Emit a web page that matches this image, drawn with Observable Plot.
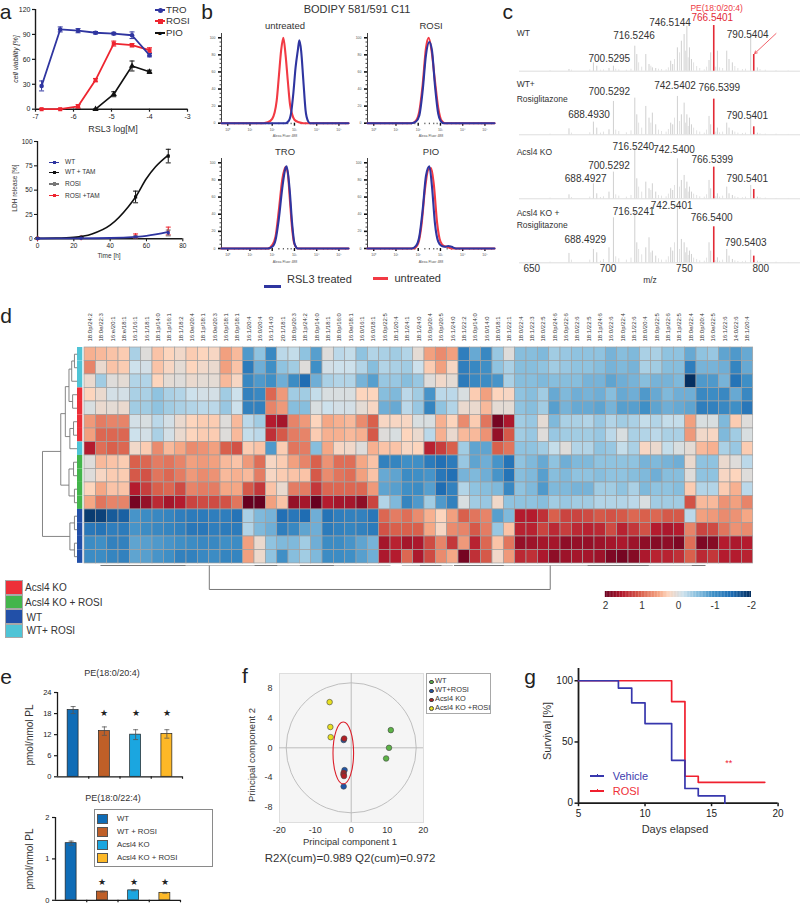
<!DOCTYPE html>
<html><head><meta charset="utf-8">
<script src="https://cdn.jsdelivr.net/npm/d3@7"></script>
<script src="https://cdn.jsdelivr.net/npm/@observablehq/plot@0.6"></script>
<style>
html,body{margin:0;padding:0;background:#fff}
#page{position:relative;width:800px;height:904px;overflow:hidden;font-family:"Liberation Sans",Arial,sans-serif;color:#333}
.t{position:absolute;white-space:nowrap;line-height:1}
.b{position:absolute}
</style></head><body><div id="page"></div>
<script>
// ---------- palette
const BLUE="#2f35a0", RED="#ee2530", INK="#1a1a1a", GREY="#cbcbcb";
const FONT='"Liberation Sans",Arial,sans-serif';

// ---------- panel a, viability
const rsl3Log=[-6.84,-6.35,-5.88,-5.42,-4.94,-4.46,-4.0];
const troViability=[28,96,94.5,92,91,89,65], troErr=[6,3,2.5,1.5,1.5,4,2];
const rosiViability=[0,0,3.5,35,79,77,71], rosiErr=[0,.5,2,2,3,2,3];
const pioViability=[0,0,0,0,18,52,45], pioErr=[0,0,0,0,3,6,2];
// ---------- panel a, LDH
const ldhCurveTime=[0,10,20,30,40,50,54,60,65,72];
const ldhCurveTam=[.5,.7,1.5,5,14,33,43,62,74,86];
const ldhCurveWtTime=[0,20,40,54,60,72];
const ldhCurveWt=[.3,.4,.8,2,3,7];
const ldhPtTime=[0,24,54,72];
const ldhTam=[.5,1.5,43,85], ldhTamErr=[.5,.5,6,7];
const ldhWt=[.3,.5,2,6], ldhWtErr=[.2,.3,1,3];
const ldhRosiTam=[.4,1,3,8], ldhRosiTamErr=[.2,.5,2,4];
// ---------- panel b, flow histograms
const untreatedRedX=[-.28,1.6,1.8,2.0,2.2,2.3,2.4,2.5,2.6,2.7,2.8,2.9,3.0,3.2,3.4,5.43];
const untreatedRedY=[0,0,1,5,26,55,85,100,80,50,22,10,4,1,0,0];
const untreatedBlueX=[-.28,2.6,2.75,2.85,2.95,3.05,3.15,3.22,3.3,3.4,3.5,3.6,3.7,5.43];
const untreatedBlueY=[0,0,3,12,35,65,85,97,85,50,15,3,0,0];
const rosiRedX=[-.28,1.7,1.9,2.05,2.2,2.35,2.47,2.6,2.75,2.9,3.05,3.2,5.43];
const rosiRedY=[0,0,3,14,45,88,100,85,50,18,3,0,0];
const rosiBlueX=[-.28,1.7,1.9,2.05,2.2,2.35,2.5,2.62,2.75,2.9,3.0,3.15,5.43];
const rosiBlueY=[0,0,2,9,38,80,95,85,45,11,3,0,0];
const troRedX=[-.28,1.8,2.0,2.15,2.3,2.45,2.6,2.7,2.8,2.9,3.0,3.15,5.43];
const troRedY=[0,0,4,14,45,80,95,88,55,22,5,0,0];
const troBlueX=[-.28,1.8,2.0,2.15,2.3,2.45,2.6,2.65,2.78,2.9,3.0,3.15,5.43];
const troBlueY=[0,0,2,10,35,70,94,96,70,28,6,0,0];
const pioRedX=[-.28,1.8,2.0,2.15,2.3,2.45,2.58,2.7,2.85,3.0,3.15,3.3,3.5,5.43];
const pioRedY=[0,0,6,28,68,92,94,75,30,8,3,2,0,0];
const pioBlueX=[-.28,1.7,1.9,2.05,2.2,2.35,2.5,2.62,2.75,2.9,3.05,3.2,3.35,3.5,3.7,5.43];
const pioBlueY=[0,0,3,14,45,85,96,72,30,8,3,2,3,2,0,0];
const flowMajorY=[0,20,40,60,80,100], flowMinorY=[5,10,15,25,30,35,45,50,55,65,70,75,85,90,95];
const flowMajorX=[0,1,2,3,4,5], flowMinorX=[.3,.5,.7,.85,1.3,1.5,1.7,1.85,2.3,2.5,2.7,2.85,3.3,3.5,3.7,3.85,4.3,4.5,4.7,4.85,5.3];
const flowExp=["⁰","¹","²","³","⁴","⁵"];
// ---------- panel c, spectra
const mzPeaks=[674.4,690.4,692.6,700.6,703.5,717.5,718.8,724.7,726.8,729,731.2,741,742.3,745.4,748,749.8,751.6,753.3,754.6,766.1,767.2,771.6,777.7,779.2,781.4,793.4,797.8];
const wtPeaks=[5,25,15,8,15,75,50,50,20,10,8,30,20,70,90,110,135,70,35,32,55,60,60,35,25,115,10];
const wtRosiPeaks=[18,38,20,15,100,110,60,85,50,65,30,35,30,115,60,95,60,50,30,55,30,20,35,20,12,50,5];
const koPeaks=[12,45,15,20,80,150,60,50,30,45,20,30,25,120,55,70,50,35,20,55,30,15,35,15,10,40,5];
const koRosiPeaks=[28,40,30,45,135,155,60,45,75,35,20,45,35,175,70,60,45,35,25,60,35,15,40,20,10,38,5];
const mzMinor=[662,676,688,695,697,705,707,712,715,720,722,728,733,735,738,739.5,743.5,746.8,750.7,752.5,756,758,760,763,764.5,769,770.5,773,775,783,785,788,790,799.5,803,810,818];
const wtMinor=[2,3,4,3,4,6,4,3,6,25,12,15,6,5,4,10,35,55,60,40,25,14,8,4,12,10,12,10,8,14,8,5,6,5,3,2,1];
const wtRosiMinor=[2,5,6,5,8,14,10,6,12,35,20,35,14,10,8,16,50,40,35,25,20,12,8,5,14,8,8,6,8,8,5,4,5,3,2,2,1];
const koMinor=[2,4,5,4,6,12,8,5,10,35,20,25,10,8,6,14,40,35,30,20,14,10,6,5,12,6,6,5,8,6,4,3,5,3,2,1,1];
const koRosiMinor=[2,8,8,5,10,18,12,8,14,40,24,30,12,8,8,18,60,40,30,22,14,10,6,5,14,8,6,5,8,6,4,3,5,3,2,2,1];
const mzRed=[769.2,795.4];
const wtRed=[137,50], wtRosiRed=[107,24], koRed=[95,28], koRosiRed=[108,20];
const mzTicks=[650,700,750,800];
// ---------- panel d, heatmap
const lipidLabels=["18:0p/24:2","18:0e/22:3","16:e/20:1","18:e/18:1","16:1/16:1","16:1/18:1","18:1p/14:0","18:1p/16:1","18:1/18:2","16:0e/20:4","18:1p/18:1","16:0e/20:3","16:0p/18:1","18:0p/18:1","16:1/20:4","16:0/20:4","16:1/14:0","20:1/18:1","18:0p/20:3","18:1p/24:2","18:0p/14:0","18:1/18:1","18:0p/16:0","16:0e/18:1","16:0/16:1","16:0/18:1","16:0p/22:5","18:1/20:4","18:1/24:1","18:1/24:0","16:0p/20:4","16:0p/20:5","16:1/24:0","18:1/22:2","16:0p/14:0","16:0/14:0","18:0/18:1","18:1/22:1","18:0/22:4","18:1/22:3","18:0/22:5","18:0p/24:6","16:0p/22:6","18:0/22:6","18:1/22:5","18:1p/24:6","16:0/22:6","18:0p/22:4","18:1/22:6","18:0/20:4","18:0p/22:5","18:1p/22:6","18:1p/22:5","18:0e/22:4","18:0p/20:4","16:0e/22:5","16:1/22:6","14:0/22:6","18:1/20:4"];
const heatRow01=[.45,.4,.35,.3,-.35,0,.35,.25,.15,.3,.25,.2,.55,.4,-.9,-.5,-1.1,-.25,-.2,-.5,-.85,0,-.25,-.2,-.5,-.3,-.35,-.4,-.3,.05,.55,.7,.55,-1.25,-.75,-1.1,-.45,0,-.55,-.55,-.6,-.4,-.45,-.5,-.5,-.5,-.65,-.55,-.6,-.35,-.35,-.5,-.5,-.75,-.5,-.45,-.8,-.9,-.75];
const heatRow02=[.75,.1,.35,.3,-.15,-.1,.35,.2,.05,.25,.15,.1,.55,.35,-1.3,-.7,-1.0,-.5,-.4,0,-1.0,-.1,-.15,-.15,-.3,-.55,-.3,-.35,-.4,-.15,.3,.55,.2,-1.25,-1.1,-1.0,-.5,-.35,-.55,-.55,-.5,-.4,-.45,-.5,-.5,-.55,-.65,-.6,-.65,-.35,-.4,-.55,-.55,-1.25,-.65,-.65,-.7,-1.15,-.75];
const heatRow03=[.1,-.4,0,.05,-.3,-.3,.25,.05,0,.1,.05,.05,.4,.2,-1.1,-.9,-1.0,-.7,-1.05,-1.5,-.7,-.35,-.3,-.3,-.65,-.85,-.45,-.45,-.55,-.45,0,.15,.05,-1.3,-1.1,-1.05,-.95,-.35,-.55,-.55,-.6,-.55,-.55,-.55,-.65,-.65,-.8,-.7,-.65,-.55,-.65,-.65,-.6,-2,-.9,-.9,-.65,-1.4,-1.0];
const heatRow04=[.25,.1,-.1,-.1,-.35,-.35,-.5,-.35,-.3,-.15,-.1,-.1,-.4,-.15,-1.2,-1.1,.95,.6,-.4,-.4,-.2,-.05,-.05,-.05,.25,.25,-.55,-.6,-.25,-.4,-.95,-.25,-.25,-.05,.3,.55,.25,.2,-.5,-.55,-.4,-.75,-.6,-.7,-.65,-.7,-.55,-.75,-.7,-.9,-.75,-.6,-.7,-.7,-1.1,-1.05,-1.1,-.75,-1.1];
const heatRow05=[-.05,.1,.05,.1,-.4,-.4,-.5,-.4,-.35,-.3,-.25,-.25,-.45,-.15,-1.2,-1.2,.75,.6,-.55,-.55,-.05,-.15,-.1,-.1,.05,.2,-.7,-.75,-.25,-.45,-1.15,-.5,-.3,.1,.1,.4,.05,.05,-.5,-.55,-.4,-.85,-.65,-.75,-.75,-.8,-.65,-.85,-.85,-1.0,-.8,-.7,-.75,-.8,-1.25,-1.2,-1.1,-1.0,-1.35];
const heatRow06=[.6,.8,.75,.75,-.1,-.05,-.25,-.1,.1,.25,.3,.3,0,.4,-.25,-.4,1.5,1.6,.75,.6,.25,.5,.45,.4,.7,1.0,.2,.2,.2,-.05,-.05,.45,.25,.7,.3,.85,1.9,1.55,-.4,-.45,.05,-.6,-.35,-.35,-.3,-.45,-.3,-.4,-.35,-.2,-.3,-.2,-.2,.55,-.05,-.05,-.6,.3,0];
const heatRow07=[.55,.95,.95,.95,-.15,-.1,-.35,-.1,.1,.25,.3,.3,0,.4,-.2,-.25,1.35,1.05,.8,.75,.3,.45,.45,.4,.45,1.05,0,-.05,.25,.1,-.25,.45,.1,.4,.4,.65,1.7,1.05,-.4,-.45,0,-.45,-.4,-.4,-.4,-.45,-.25,-.05,-.35,-.3,-.25,-.35,-.35,.6,.15,.2,-.6,-.4,-.05];
const heatRow08=[1.5,.9,1.0,.95,.15,.3,.7,.4,.5,.7,.65,.55,1.0,1.1,.3,.35,-.9,.3,.85,.8,-.55,.5,.2,.15,0,.45,.35,.35,.2,.25,1.45,1.25,1.0,-.4,-.8,-.8,1.0,.85,-.5,-.5,-.4,-.2,0,-.3,-.3,-.5,-.45,-.2,-.35,.2,.1,-.2,-.05,.05,.4,.45,-.35,-.45,.3];
const heatRow09=[0,.4,.35,.3,1.0,.95,.8,.85,.75,.55,.6,.55,.4,.35,.6,.9,.2,.3,.55,.75,1.0,.65,.9,.9,.5,.35,-1.2,-1.15,-1.0,-1.0,-1.3,-1.45,-1.3,-.45,-.8,-.7,-.95,-1.4,-.5,-.6,-.75,-.5,-.7,-.6,-.6,-.5,-.5,-.5,-.5,-.65,-.6,-.65,-.7,.1,-.5,-.5,.1,0,-.25];
const heatRow10=[0,.2,.3,.3,1.05,1.1,.85,.95,.8,.6,.7,.65,.4,.45,.4,.8,.2,.3,.35,.35,1.05,.7,.85,.9,.55,.35,-.75,-.8,-1.05,-1.0,-.95,-1.35,-1.45,-.65,-.6,-.7,-.95,-1.4,-.55,-.6,-.85,-.55,-.6,-.5,-.5,-.55,-.5,-.5,-.55,-.6,-.7,-.55,-.55,0,-.5,-.5,.2,.25,0];
const heatRow11=[.25,.5,.35,.35,1.5,1.25,1.0,.95,1.15,.75,.8,.8,.5,.5,1.05,1.3,.35,.1,.8,.8,1.3,.95,.95,.95,.95,.6,-.8,-.85,-1.0,-1.05,-.85,-1.5,-1.2,-.3,-.5,-.55,-.6,-1.1,-.5,-.6,-.9,-.6,-.6,-.65,-.65,-.4,-.4,-.5,-.35,-.6,-.5,-.5,-.55,.3,-.3,-.3,.3,.45,-.25];
const heatRow12=[.5,.85,.75,.75,1.9,1.7,1.4,1.6,1.5,1.2,1.15,1.15,1.1,.85,2,2,.55,.35,1.7,1.6,2,1.5,1.6,1.6,1.75,1.2,-.3,-.6,-1.15,-.9,-.4,-.9,-1.2,-.05,-.4,-.45,.15,-.5,-.5,-.5,-.55,-.4,-.45,-.4,-.4,-.3,-.3,-.3,-.25,-.05,-.4,-.4,-.4,1.1,.4,.4,.65,.55,.75];
const heatRow13=[-1.9,-1.85,-1.65,-1.6,-.95,-1.05,-1.1,-1.15,-1.25,-1.3,-1.3,-1.25,-1.25,-1.4,-.35,-.6,-.65,-1.45,-1.35,-1.5,-.7,-1.4,-1.25,-1.2,-1.2,-1.35,.95,.8,.9,.7,.45,.25,.55,1.0,.85,.75,-.85,-.6,1.5,1.5,1.35,1.0,1.2,1.2,1.15,1.05,1.1,1.05,.95,1.0,.95,1.05,1.05,-.25,.55,.6,.7,.65,.5];
const heatRow14=[-1.35,-1.4,-1.25,-1.3,-.95,-1.05,-1.1,-1.15,-1.2,-1.35,-1.35,-1.25,-1.3,-1.3,-.3,-.6,-.7,-1.25,-1.1,-.8,-.7,-1.3,-1.2,-1.15,-1.2,-1.3,1.1,1.0,1.0,1.0,.5,.2,.7,.75,1.05,.8,-.45,.35,1.45,1.45,1.2,1.4,1.25,1.4,1.45,1.4,1.15,1.45,1.3,1.1,1.5,1.55,1.5,.75,1.2,1.15,.85,.65,.7];
const heatRow15=[-1.05,-1.0,-1.2,-1.2,-.8,-.85,-.9,-.95,-1.0,-1.05,-1.1,-1.1,-1.0,-1.05,.55,.1,-.5,-.6,-.6,-.4,-.7,-1.05,-1.05,-.95,-.8,-.65,1.6,1.45,1.6,1.55,1.15,.75,1.3,.6,1.45,.95,.35,.85,1.7,1.65,1.6,1.6,1.75,1.7,1.7,1.65,1.6,1.55,1.65,1.75,1.8,1.75,1.85,.9,1.85,1.8,1.5,1.55,1.5];
const heatRow16=[-1.05,-1.05,-1.15,-1.2,-.8,-.85,-.95,-1.0,-1.2,-1.2,-1.1,-1.05,-1.15,-1.15,.55,.12,-.5,-1.0,-.55,-.4,-.6,-1.05,-1.05,-1.0,-.85,-.7,1.55,1.5,.95,1.55,1.15,.7,.5,1.9,1.35,1.05,.15,.6,1.4,1.35,1.55,1.75,1.65,1.6,1.6,1.65,1.85,1.9,1.8,1.55,1.45,1.45,1.35,1.0,1.4,1.3,1.5,1.5,1.45];
const rowGroups=["WT+ ROSI","WT+ ROSI","WT+ ROSI","Acsl4 KO","Acsl4 KO","Acsl4 KO","Acsl4 KO","WT+ ROSI","Acsl4 KO + ROSI","Acsl4 KO + ROSI","Acsl4 KO + ROSI","Acsl4 KO + ROSI","WT","WT","WT","WT"];
const groupNames=["Acsl4 KO","Acsl4 KO + ROSI","WT","WT+ ROSI"];
const groupColors=["#ed2f38","#43b54b","#2250a8","#4fc4d6"];
const heatStops=[-2,-1.5,-1,-.5,-.15,0,.25,.5,1,1.5,2];
const heatColors=["#053061","#1f6db3","#3f8fc6","#8fc3e0","#cde1ec","#dedcda","#fdd5bd","#f5a785","#d9604c","#b41b2e","#67001f"];
const legendTicks=[2,1,0,-1,-2];
// dendrogram links: [height, row, height, row]
const rowLinks=[[38,7.7,38,14],[38,7.7,18,7.7],[38,14,8,14],[18,4.9,18,10.2],[18,4.9,13,4.9],[18,10.2,9,10.2],[13,2.9,13,6.6],[13,2.9,9,2.9],[13,6.6,8,6.6],[9,1.6,9,4],[9,1.6,6,1.6],[9,4,5,4],[6,1,6,2.5],[6,1,3,1],[6,2.5,0,2.5],[3,.5,3,1.5],[3,.5,0,.5],[3,1.5,0,1.5],[5,3.5,5,4.5],[5,3.5,0,3.5],[5,4.5,0,4.5],[8,6,8,7.5],[8,7.5,0,7.5],[8,6,4,6],[4,5.5,4,6.5],[4,5.5,0,5.5],[4,6.5,0,6.5],[9,9,9,11],[9,9,4,9],[9,11,3,11],[4,8.5,4,9.5],[4,8.5,0,8.5],[4,9.5,0,9.5],[3,10.5,3,11.5],[3,10.5,0,10.5],[3,11.5,0,11.5],[8,13,8,15],[8,13,3,13],[8,15,3,15],[3,12.5,3,13.5],[3,12.5,0,12.5],[3,13.5,0,13.5],[3,14.5,3,15.5],[3,14.5,0,14.5],[3,15.5,0,15.5]];
// [column, height, column, height]
const colLinksLight=[[1.4,0,19.5,0],[20,0,27,0],[28,0,32.5,0],[33,0,54.8,0]];
const colLinks=[[11,24,41.1,24],[11,24,11,0],[41.1,24,41.1,0],[1.4,0,8.9,0],[15,0,17,0],[19,0,22,0],[29.6,0,31.5,0],[32.6,0,37,0],[44.4,0,49.8,0],[53.6,0,54.8,0]];
// ---------- panel e
const groupsE=["WT","WT + ROSI","Acsl4 KO","Acsl4 KO + ROSI"];
const colorsE=["#0f6cb6","#bf5f28","#1ba6e0","#fdb827"];
const pe204=[19,13,12,12.2], pe204Err=[1,1.2,1.4,1.2];
const pe224=[1.38,.21,.24,.18], pe224Err=[.05,.01,.01,.01];
// ---------- panel f
const wtPC1=[11,10.5,9.7], wtPC2=[2.38,0,-1.43];
const koRosiPC1=[-6,-5.8,-5.7], koRosiPC2=[6.15,2.8,1.43];
const wtRosiPC1=[-2.1,-1.85,-2.1], wtRosiPC2=[1.05,-3,-5.2];
const koPC1=[-1.95,-2.1,-2.15,-2.0], koPC2=[1.25,-3.35,-3.6,-3.8];
const pcTicksX=[-20,-10,0,10,20], pcTicksY=[-8,-4,0,4,8];
// ---------- panel g
const vehicleDays=[5,8,9,10,12,13,14,16], vehicleSurvival=[100,94,82,65,35,12,6,0];
const rosiDays=[5,12,13,14,19], rosiSurvival=[100,83,22,17,17];

// ---------- helpers
const page=document.getElementById("page");
function panel(l,t,r,b,opts,m={}){
  const M={l:0,t:0,r:0,b:0,...m};
  page.append(Plot.plot({width:r-l+M.l+M.r,height:b-t+M.t+M.b,marginLeft:M.l,marginRight:M.r,marginTop:M.t,marginBottom:M.b,
    style:{position:"absolute",left:(l-M.l)+"px",top:(t-M.t)+"px",background:"transparent",overflow:"visible",fontFamily:FONT},...opts}));
}
function T(s,x,y,o={}){
  const d=document.createElement("div");d.className="t";d.textContent=s;
  const a=o.a==="l"?"0":o.a==="r"?"-100%":"-50%";
  d.style.cssText=`left:${x}px;top:${y}px;font-size:${o.s||10}px;color:${o.c||"#333"};transform:translate(${a},-50%)${o.rot?` rotate(${o.rot}deg)`:""};`+(o.i?"font-style:italic;":"");
  page.append(d);
}
function box(x,y,w,h,bg,extra=""){
  const d=document.createElement("div");d.className="b";
  d.style.cssText=`left:${x}px;top:${y}px;width:${w}px;height:${h}px;background:${bg};${extra}`;page.append(d);
}
const cap={draw(c){c.moveTo(-2.5,0);c.lineTo(2.5,0);}};
const tidy=(xs,ys,es)=>xs.map((x,i)=>({x,y:ys[i],e:es?es[i]:0}));
const str=d=>String(d);
function errMarks(data,color,extra={}){
  return [Plot.ruleX(data,{x:"x",y1:d=>d.y-d.e,y2:d=>d.y+d.e,stroke:color,strokeWidth:1,...extra}),
    Plot.dot(data,{x:"x",y:d=>d.y+d.e,symbol:cap,stroke:color,fill:"none",strokeWidth:1,...extra}),
    Plot.dot(data,{x:"x",y:d=>d.y-d.e,symbol:cap,stroke:color,fill:"none",strokeWidth:1,...extra})];
}

// ---------- panel letters
[["a",5.5,11],["b",207,11],["c",507.7,11],["d",6,315],["e",6,676],["f",245,675],["g",530,676]].forEach(([s,x,y])=>T(s,x,y,{s:21,c:"#222"}));

// ---------- a top
const tro=tidy(rsl3Log,troViability,troErr),rosi=tidy(rsl3Log,rosiViability,rosiErr),pio=tidy(rsl3Log,pioViability,pioErr);
panel(35,9,187,108.7,{x:{domain:[-7,-3]},y:{domain:[0,120]},marks:[
  Plot.axisX({ticks:[-7,-6,-5,-4,-3],tickFormat:str,tickSize:3,tickPadding:2,fontSize:7,label:null,strokeWidth:1.2,color:INK}),
  Plot.axisY({ticks:[0,30,60,90,120],tickFormat:str,tickSize:3,tickPadding:2,fontSize:7,label:null,strokeWidth:1.2,color:INK}),
  Plot.ruleX([-7],{stroke:INK,strokeWidth:1.4}),
  Plot.ruleY([0],{stroke:INK,strokeWidth:1.6}),
  ...errMarks(pio,"#111"),Plot.line(pio.slice(3),{x:"x",y:"y",stroke:"#111",strokeWidth:1.6}),
  Plot.dot(pio.slice(3),{x:"x",y:"y",symbol:"triangle",fill:"#111",r:2.3}),
  ...errMarks(rosi,RED),Plot.line(rosi,{x:"x",y:"y",stroke:RED,strokeWidth:1.8}),
  Plot.dot(rosi,{x:"x",y:"y",symbol:"square",fill:RED,r:2.3}),
  ...errMarks(tro,BLUE),Plot.line(tro,{x:"x",y:"y",stroke:BLUE,strokeWidth:1.8}),
  Plot.dot(tro,{x:"x",y:"y",symbol:"circle",fill:BLUE,r:2.3})
]},{l:22,b:14,t:3,r:4});
T("cell viability [%]",15,59,{s:7,rot:-90,i:1});
T("RSL3 log[M]",113,129,{s:9});
[["TRO",BLUE,10,"50%"],["ROSI",RED,21,"0"],["PIO","#111",33,"tri"]].forEach(([s,c,y,k])=>{
  box(155,y-.8,10,1.7,c);
  if(k==="tri") T("▲",160,y,{s:6,c});
  else box(157.5,y-2.5,5,5,c,`border-radius:${k};`);
  T(s,166,y,{a:"l",s:9.7});
});

// ---------- a bottom
const ldhTamPts=tidy(ldhPtTime,ldhTam,ldhTamErr),ldhWtPts=tidy(ldhPtTime,ldhWt,ldhWtErr),ldhRTPts=tidy(ldhPtTime,ldhRosiTam,ldhRosiTamErr);
panel(36.7,140.7,182,238,{x:{domain:[0,80]},y:{domain:[0,100]},marks:[
  Plot.axisX({ticks:[0,20,40,60,80],tickFormat:str,tickSize:3,tickPadding:2,fontSize:6.5,label:null,strokeWidth:1.1,color:INK}),
  Plot.axisY({ticks:[0,25,50,75,100],tickFormat:str,tickSize:3,tickPadding:2,fontSize:6.5,label:null,strokeWidth:1.1,color:INK}),
  Plot.ruleX([0],{stroke:INK,strokeWidth:1.3}),
  Plot.ruleY([0],{stroke:INK,strokeWidth:1.4}),
  ...errMarks(ldhRTPts,RED),
  Plot.dot(ldhRTPts,{x:"x",y:"y",symbol:"diamond",fill:RED,r:1.8}),
  ...errMarks(ldhTamPts,"#111"),
  Plot.line(tidy(ldhCurveTime,ldhCurveTam),{x:"x",y:"y",stroke:"#111",strokeWidth:1.6,curve:"monotone-x"}),
  Plot.dot(ldhTamPts,{x:"x",y:"y",symbol:"square",fill:"#111",r:1.8}),
  ...errMarks(ldhWtPts,"#777"),
  Plot.line(tidy(ldhCurveWtTime,ldhCurveWt),{x:"x",y:"y",stroke:BLUE,strokeWidth:1.8,curve:"monotone-x"}),
  Plot.dot(ldhWtPts,{x:"x",y:"y",symbol:"circle",fill:BLUE,r:1.7})
]},{l:22,b:12,t:3,r:4});
T("LDH release [%]",15,188,{s:6.5,rot:-90,i:0});
T("Time [h]",109,256,{s:6.5});
[["WT",BLUE,162.3],["WT + TAM","#111",172.3],["ROSI","#777",184],["ROSI +TAM",RED,195.7]].forEach(([s,c,y])=>{
  box(49,y-.7,10,1.4,c);box(52.5,y-1.7,3.2,3.4,c);T(s,65,y,{a:"l",s:6.5});
});

// ---------- b
function flow(l,t,b,redX,redY,blueX,blueY){
  const axTxt={fontSize:3.5,color:"#555"};
  panel(l,t,l+127,b,{x:{domain:[-.28,5.43]},y:{domain:[0,105]},marks:[
    Plot.ruleX([-.28],{stroke:"#111",strokeWidth:.8}),
    Plot.axisY({anchor:"left",ticks:flowMinorY,tickSize:1.5,tickFormat:()=>"",label:null,stroke:"#111",strokeWidth:.8}),
    Plot.axisY({anchor:"left",ticks:flowMajorY,tickSize:3,tickPadding:3,tickFormat:d=>d?str(d):"0",label:null,stroke:"#111",strokeWidth:1.6,...axTxt}),
    Plot.axisX({ticks:flowMinorX,tickSize:1.5,tickFormat:()=>"",label:null,stroke:"#111",strokeWidth:.8}),
    Plot.axisX({ticks:flowMajorX,tickSize:3,tickPadding:2,tickFormat:d=>"10"+flowExp[d],label:null,stroke:"#111",strokeWidth:1.4,...axTxt}),
    Plot.line(tidy(redX,redY),{x:"x",y:"y",stroke:"#f23a44",strokeWidth:2.1,curve:"monotone-x"}),
    Plot.line(tidy(blueX,blueY),{x:"x",y:"y",stroke:BLUE,strokeWidth:2.1,curve:"monotone-x"})
  ]},{l:10,b:10,t:0,r:0});
  T("Alexa Fluor 488",l+64,b+14.5,{s:3.5,c:"#555"});
}
flow(221,33,122.7,untreatedRedX,untreatedRedY,untreatedBlueX,untreatedBlueY);
flow(367,33,122.7,rosiRedX,rosiRedY,rosiBlueX,rosiBlueY);
flow(221,158,248,troRedX,troRedY,troBlueX,troBlueY);
flow(367,158,248,pioRedX,pioRedY,pioBlueX,pioBlueY);
T("BODIPY 581/591 C11",357,9,{s:11});
T("untreated",285,26,{s:9.5});T("ROSI",431,26,{s:9.5});T("TRO",285,152,{s:9.5});T("PIO",431,152,{s:9.5});
box(264,285,17,2.5,BLUE);T("RSL3 treated",287,279,{a:"l",s:11});
box(373,277,15,2.5,"#f23a44");T("untreated",394.5,278,{a:"l",s:11});

// ---------- c
const mzDomain=[642,826], pxPerZoom=3;
function spectrum(top,base,peaks,minor,red,o={}){
  const pk=mzPeaks.map((m,i)=>({m,h:peaks[i]})), mn=mzMinor.map((m,i)=>({m,h:minor[i]})), rd=mzRed.map((m,i)=>({m,h:red[i]}));
  panel(519,top,800,base,{x:{domain:mzDomain,axis:o.axis?undefined:null},y:{domain:[0,(base-top)*pxPerZoom],axis:null},marks:[
    Plot.ruleY([0],{stroke:"#d4d4d4",strokeWidth:.8}),
    Plot.ruleX(mn,{x:"m",y1:0,y2:"h",stroke:"#dadada",strokeWidth:.8}),
    Plot.ruleX(pk,{x:"m",y1:0,y2:"h",stroke:GREY,strokeWidth:.9}),
    Plot.ruleX(rd,{x:"m",y1:0,y2:"h",stroke:"#e32a36",strokeWidth:1.6}),
    ...(o.axis?[Plot.axisX({ticks:mzTicks,tickFormat:str,tickSize:0,tickPadding:2,fontSize:10,label:null,color:"#333"})]:[]),
    ...(o.arrow?[Plot.arrow([o.arrow],{x1:"x1",y1:"y1",x2:"x2",y2:"y2",stroke:"#ee3a44",strokeWidth:.8,headLength:5})]:[])
  ]},{b:o.axis?14:0});
}
spectrum(10,70.7,wtPeaks,wtMinor,wtRed,{arrow:{x1:810,y1:113,x2:796,y2:53}});
spectrum(74,134.3,wtRosiPeaks,wtRosiMinor,wtRosiRed);
spectrum(138,198.3,koPeaks,koMinor,koRed);
spectrum(202,262.3,koRosiPeaks,koRosiMinor,koRosiRed,{axis:true});
const specLabels=[["746.5144",600,68],["716.5246",492,108],["700.5295",418,178],["790.5404",833,105],
 ["742.5402",615,258],["766.5399",748,264],["700.5292",418,276],["688.4930",357,344],["790.5401",832,348],
 ["716.5240",490,440],["742.5400",612,450],["766.5399",727,479],["700.5292",417,497],["688.4927",347,537],["790.5401",832,537],
 ["742.5401",605,618],["716.5241",491,635],["766.5400",725,654],["688.4929",346,720],["790.5403",827,730]];
specLabels.forEach(([s,x,y])=>T(s,470+x/3,y/3,{s:10}));
T("PE(18:0/20:4)",470+740/3,8,{s:8.5,c:"#ee3a44"});T("766.5401",470+727/3,18.3,{s:10,c:"#e32a36"});
[["WT",100],["WT+",252],["Rosiglitazone",296],["Acsl4 KO",456],["Acsl4 KO +",638],["Rosiglitazone",676]].forEach(([s,y])=>T(s,470+140/3,y/3,{a:"l",s:8.5}));
T("m/z",650,279.5,{s:8.5});

// ---------- d heatmap
const heatRows=[heatRow01,heatRow02,heatRow03,heatRow04,heatRow05,heatRow06,heatRow07,heatRow08,heatRow09,heatRow10,heatRow11,heatRow12,heatRow13,heatRow14,heatRow15,heatRow16];
const heatColor=d3.scaleLinear().domain(heatStops).range(heatColors).clamp(true);
const heatCells=heatRows.flatMap((row,r)=>row.map((v,c)=>({r,c,v})));
panel(84,347.3,752.7,563.3,{color:{type:"identity"},
  x:{domain:d3.range(lipidLabels.length),padding:0,round:false},y:{domain:d3.range(16),padding:0,round:false,axis:null},marks:[
  Plot.cell(heatCells,{x:"c",y:"r",fill:d=>heatColor(d.v),stroke:"#a0a0a0",strokeWidth:.7}),
  Plot.axisX({anchor:"top",tickSize:0,tickPadding:6,tickRotate:-90,fontSize:6,tickFormat:i=>lipidLabels[i],label:null,color:"#333"})
]},{t:40});
panel(76.7,347.3,82,563.3,{color:{type:"identity"},x:{domain:[0],padding:0,round:false,axis:null},y:{domain:d3.range(16),padding:0,round:false,axis:null},marks:[
  Plot.cell(rowGroups,{x:()=>0,y:(d,i)=>i,fill:d=>groupColors[groupNames.indexOf(d)]})
]});
panel(42,347.3,76.7,563.3,{x:{domain:[38,0],axis:null},y:{domain:[0,16],reverse:true,axis:null},marks:[
  Plot.link(rowLinks,{x1:d=>d[0],y1:d=>d[1],x2:d=>d[2],y2:d=>d[3],stroke:"#777",strokeWidth:.9})
]});
panel(84,565,752.7,589,{x:{domain:[0,59],axis:null},y:{domain:[0,24],reverse:true,axis:null},marks:[
  Plot.link(colLinksLight,{x1:d=>d[0],y1:d=>d[1],x2:d=>d[2],y2:d=>d[3],stroke:"#bdbdbd",strokeWidth:1}),
  Plot.link(colLinks,{x1:d=>d[0],y1:d=>d[1],x2:d=>d[2],y2:d=>d[3],stroke:"#777",strokeWidth:1})
]});
groupNames.forEach((g,i)=>{
  box(5,580+i*14.6,18,14.6,groupColors[i],"box-sizing:border-box;border:1px solid #a8a8a8;");
  T(g,i<2?25:26.5,[588,603,618,631][i],{a:"l",s:10});
});
panel(604.7,590.7,750.7,596.7,{x:{domain:[2,-2]},y:{domain:[0,1],axis:null},marks:[
  Plot.rect(d3.range(-2,2,.04),{x1:d=>d,x2:d=>d+.045,y1:0,y2:1,fill:d=>heatColor(d)}),
  Plot.axisX({ticks:legendTicks,tickFormat:str,tickSize:0,tickPadding:4,fontSize:10,label:null,color:"#333"})
],color:{type:"identity"}},{b:16,l:6,r:6});

// ---------- e
function barsE(l,t,r,b,vals,errs,top,ticks,starAt){
  const rows=groupsE.map((g,i)=>({g,y:vals[i],e:errs[i]}));
  panel(l,t,r,b,{color:{type:"identity"},x:{domain:groupsE,paddingInner:.65,paddingOuter:.325,round:false},y:{domain:[0,top]},marks:[
    Plot.axisY({ticks,tickFormat:str,tickSize:3,tickPadding:3,fontSize:7.5,label:null,color:INK,strokeWidth:1.2}),
    Plot.axisX({tickFormat:()=>"",tickSize:2.5,label:null,dx:(r-l)/8,strokeWidth:1.2,color:INK}),
    Plot.ruleY([0],{stroke:INK,strokeWidth:1.3}),
    Plot.ruleX([groupsE[0]],{dx:-(r-l)/8,y1:0,y2:top,stroke:INK,strokeWidth:1.3}),
    Plot.ruleX(rows,{x:"g",y1:"y",y2:d=>d.y+d.e,stroke:"#555",strokeWidth:.8}),
    Plot.dot(rows,{x:"g",y:d=>d.y+d.e,symbol:cap,stroke:"#555",fill:"none",strokeWidth:.8}),
    Plot.barY(rows,{x:"g",y:"y",fill:(d,i)=>colorsE[i],stroke:"#222",strokeWidth:.7}),
    Plot.ruleX(rows,{x:"g",y1:d=>d.y-d.e,y2:"y",stroke:"#555",strokeWidth:.8}),
    Plot.dot(rows,{x:"g",y:d=>d.y-d.e,symbol:cap,stroke:"#555",fill:"none",strokeWidth:.8}),
    Plot.text(rows.slice(1),{x:"g",y:()=>starAt,text:()=>"★",fontSize:9,fill:"#222"})
  ]},{l:16,b:3,t:0,r:2});
}
barsE(56.7,691.7,181.7,776,pe204,pe204Err,24,[0,6,12,18,24],18);
barsE(55,816.7,180,899.5,pe224,pe224Err,2,[0,1,2],.45);
T("PE(18:0/20:4)",112,673,{s:9});T("PE(18:0/22:4)",113,798,{s:9});
T("pmol/nmol PL",30,735,{s:10,rot:-90});T("pmol/nmol PL",30,859,{s:10,rot:-90});
box(94,809,119,58,"#fff","box-sizing:border-box;border:1px solid #8a8a8a;");
groupsE.forEach((g,i)=>{
  box(97,814+i*13,10.5,9.5,colorsE[i],"box-sizing:border-box;border:.5px solid #555;");
  T(g,117,819+i*13,{a:"l",s:7.8});
});

// ---------- f
const ellipseSym={draw(c){const rx=10.3,ry=31,k=.5523;c.moveTo(rx,0);
  c.bezierCurveTo(rx,k*ry,k*rx,ry,0,ry);c.bezierCurveTo(-k*rx,ry,-rx,k*ry,-rx,0);
  c.bezierCurveTo(-rx,-k*ry,-k*rx,-ry,0,-ry);c.bezierCurveTo(k*rx,-ry,rx,-k*ry,rx,0);c.closePath();}};
const dotsF=(xs,ys,fill)=>Plot.dot(tidy(xs,ys),{x:"x",y:"y",fill,stroke:"#444",strokeWidth:.6,r:2.8});
panel(279.3,672.7,423.3,821.7,{color:{type:"identity"},x:{domain:[-19.92,20.08]},y:{domain:[-10.05,10]},marks:[
  Plot.frame({fill:"#f5f5f5",stroke:"#dedede"}),
  Plot.axisX({ticks:pcTicksX,tickFormat:str,tickSize:0,tickPadding:4,fontSize:9,label:null,color:"#333"}),
  Plot.axisY({ticks:pcTicksY,tickFormat:str,tickSize:0,tickPadding:7,fontSize:9,label:null,color:"#333"}),
  Plot.ruleX([0],{stroke:"#b5b5b5",strokeWidth:.9}),
  Plot.ruleY([0],{stroke:"#b5b5b5",strokeWidth:.9}),
  Plot.dot([{x:0,y:0}],{x:"x",y:"y",r:65,fill:"none",stroke:"#b8b8b8",strokeWidth:.9}),
  dotsF(wtPC1,wtPC2,"#5cb346"),dotsF(koRosiPC1,koRosiPC2,"#e8e020"),dotsF(wtRosiPC1,wtRosiPC2,"#1f55a8"),dotsF(koPC1,koPC2,"#b21f24"),
  Plot.dot([{x:-2.2,y:-.7}],{x:"x",y:"y",symbol:ellipseSym,fill:"none",stroke:"#dc1f2a",strokeWidth:1.1})
]},{l:10,b:14,t:0,r:0});
T("Principal component 1",350,842,{s:9.5});
T("Principal component 2",252,755,{s:9.5,rot:-90});
T("R2X(cum)=0.989  Q2(cum)=0.972",350,859,{s:11.5});
box(426,673.3,65.3,40.7,"#fff","box-sizing:border-box;border:1.3px solid #a8a8a8;");
[["WT","#5cb346"],["WT+ROSI","#1f55a8"],["Acsl4 KO","#b21f24"],["Acsl4 KO +ROSI","#e8e020"]].forEach(([s,c],i)=>{
  const y=682+i*8.95;
  box(429,y-2.4,4.8,4.8,c,"box-sizing:border-box;border:.5px solid #444;border-radius:50%;");
  T(s,435,y-1,{a:"l",s:7.4});
});

// ---------- g
panel(577.7,668,777.3,802.7,{x:{domain:[5,20]},y:{domain:[0,110]},marks:[
  Plot.axisX({ticks:[5,10,15,20],tickFormat:str,tickSize:3.5,tickPadding:3,fontSize:10,label:null,strokeWidth:1.5,color:INK}),
  Plot.axisY({ticks:[0,50,100],tickFormat:str,tickSize:3.5,tickPadding:2,fontSize:10,label:null,strokeWidth:1.5,color:INK}),
  Plot.ruleX([5],{stroke:INK,strokeWidth:1.8}),
  Plot.ruleY([0],{stroke:INK,strokeWidth:1.8}),
  Plot.line(tidy(rosiDays,rosiSurvival),{x:"x",y:"y",curve:"step-after",stroke:"#f0202f",strokeWidth:1.7}),
  Plot.line(tidy(vehicleDays,vehicleSurvival),{x:"x",y:"y",curve:"step-after",stroke:"#3737ad",strokeWidth:1.7}),
  Plot.text([{x:16.3,y:33}],{x:"x",y:"y",text:()=>"**",fill:"#f0202f",fontSize:9})
]},{l:22,b:14,t:0,r:6});
T("Survival [%]",546.5,731,{s:11,rot:-90});
T("Days elapsed",675,829,{s:11});
box(590,774.5,14,2,"#3737ad");box(596.5,773.5,1.2,3,"#3737ad");T("Vehicle",612.7,775.5,{a:"l",s:11,c:"#3d3dae"});
box(590,790,14,2,"#f0202f");box(596.5,789,1.2,3,"#f0202f");T("ROSI",612.7,791,{a:"l",s:11,c:"#ef3039"});
</script></body></html>
